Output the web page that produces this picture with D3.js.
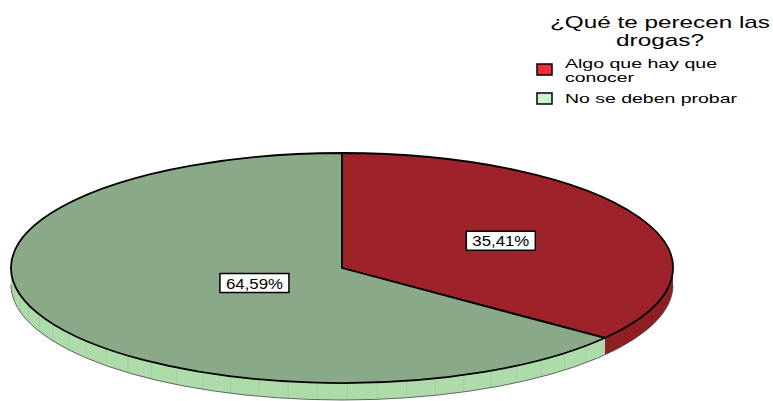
<!DOCTYPE html>
<html><head><meta charset="utf-8">
<script src="https://cdn.jsdelivr.net/npm/d3@7"></script>
<style>body{margin:0;background:#fff}svg{display:block}text{font-family:"Liberation Sans",Arial,sans-serif;fill:#000}</style>
</head><body><svg id="c" width="773" height="401"></svg>
<script>
// ---- data ----
const categories = ["Algo que hay que conocer", "No se deben probar"];
const values = [35.41, 64.59];
const valueLabels = ["35,41%", "64,59%"];
const titleLines = ["¿Qué te perecen las", "drogas?"];
const legendLines = [["Algo que hay que", "conocer"], ["No se deben probar"]];

// ---- style ----
const topColors = ["#9E2229", "#8AA989"];
const sideColors = ["#901F25", "#AEDBAA"];
const legendColors = ["#E8323B", "#CBF6CB"];
const cx = 342, cy = 268, rx = 331, ry = 115, depth = 17;
const labelR = [0.535, 0.295];
const labelW = [57, 57];
const legendTextW = [[152, 69], [172]];
const titleW = [220, 88];

const svg = d3.select("#c");
const pie = d3.pie().sort(null).value(d => d).startAngle(0).endAngle(2 * Math.PI);
const arcs = pie(values);
const P = (t, r = 1, dy = 0) => [cx + rx * r * Math.sin(t), cy - ry * r * Math.cos(t) + dy];
const f = p => p[0].toFixed(2) + "," + p[1].toFixed(2);

// sides (front half: angles PI/2 .. 3PI/2)
const gSide = svg.append("g");
arcs.forEach((a, i) => {
  const s = Math.max(a.startAngle, Math.PI / 2), e = Math.min(a.endAngle, 3 * Math.PI / 2);
  if (e <= s) return;
  const large = (e - s) > Math.PI ? 1 : 0;
  const d = "M" + f(P(s)) + "A" + rx + "," + ry + " 0 " + large + " 1 " + f(P(e)) +
    "L" + f(P(e, 1, depth)) + "A" + rx + "," + ry + " 0 " + large + " 0 " + f(P(s, 1, depth)) + "Z";
  gSide.append("path").attr("d", d).attr("fill", sideColors[i]).attr("stroke", "none");
  const n = Math.floor((e - s) / 0.09);
  for (let k = 1; k <= n; k++) {
    const t = s + k * 0.09;
    gSide.append("line").attr("x1", P(t)[0]).attr("y1", P(t)[1]).attr("x2", P(t)[0]).attr("y2", P(t, 1, depth)[1])
      .attr("stroke", "#000").attr("stroke-opacity", 0.06).attr("stroke-width", 1);
  }
});
// bottom edge of side
gSide.append("path")
  .attr("d", "M" + f(P(Math.PI / 2, 1, depth)) + "A" + rx + "," + ry + " 0 0 1 " + f(P(3 * Math.PI / 2, 1, depth)))
  .attr("fill", "none").attr("stroke", "#444").attr("stroke-width", 0.8);

// top slices
const gTop = svg.append("g");
arcs.forEach((a, i) => {
  const large = (a.endAngle - a.startAngle) > Math.PI ? 1 : 0;
  const d = "M" + cx + "," + cy + "L" + f(P(a.startAngle)) + "A" + rx + "," + ry + " 0 " + large + " 1 " + f(P(a.endAngle)) + "Z";
  gTop.append("path").attr("d", d).attr("fill", topColors[i])
    .attr("stroke", "#000").attr("stroke-width", 1.8).attr("stroke-linejoin", "round");
});

// value labels
arcs.forEach((a, i) => {
  const m = (a.startAngle + a.endAngle) / 2;
  const p = P(m, labelR[i]);
  const g = svg.append("g").attr("transform", "translate(" + p[0] + "," + p[1] + ")");
  g.append("rect").attr("x", -labelW[i] / 2 - 6).attr("y", -9.5).attr("width", labelW[i] + 12).attr("height", 19)
    .attr("fill", "#fff").attr("stroke", "#000").attr("stroke-width", 1.5);
  g.append("text").attr("x", 0).attr("y", 5.5).attr("text-anchor", "middle").attr("font-size", 14)
    .attr("textLength", labelW[i]).attr("lengthAdjust", "spacingAndGlyphs").text(valueLabels[i]);
});

// legend
const gL = svg.append("g");
titleLines.forEach((t, i) => {
  gL.append("text").attr("x", 660).attr("y", 28 + i * 18).attr("text-anchor", "middle").attr("font-size", 17)
    .attr("textLength", titleW[i]).attr("lengthAdjust", "spacingAndGlyphs").text(t);
});
const itemY = [64, 93];
categories.forEach((c, i) => {
  gL.append("rect").attr("x", 537).attr("y", itemY[i]).attr("width", 15).attr("height", 11)
    .attr("fill", legendColors[i]).attr("stroke", "#000").attr("stroke-width", 1.5);
  legendLines[i].forEach((t, j) => {
    gL.append("text").attr("x", 565).attr("y", itemY[i] + 4 + j * 14 - (legendLines[i].length > 1 ? 0 : -6))
      .attr("font-size", 13).attr("textLength", legendTextW[i][j]).attr("lengthAdjust", "spacingAndGlyphs").text(t);
  });
});
</script></body></html>
